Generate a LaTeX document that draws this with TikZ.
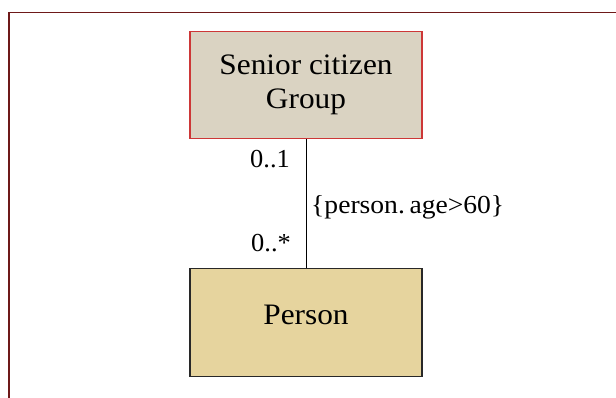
\documentclass[tikz,border=0pt]{standalone}
\usepackage{fontspec}
\setmainfont{Liberation Serif}
\definecolor{framecol}{RGB}{110,25,25}
\definecolor{topfill}{RGB}{218,211,194}
\definecolor{topedge}{RGB}{205,55,55}
\definecolor{botfill}{RGB}{230,212,158}
\definecolor{botedge}{RGB}{40,40,40}
\begin{document}
\begin{tikzpicture}[x=1pt,y=-1pt,
  classbox/.style={draw, line width=1.2pt, minimum width=232pt, minimum height=107pt, inner sep=0pt, align=center, font=\fontsize{27}{37}\selectfont},
  mult/.style={font=\fontsize{24}{26}\selectfont, inner sep=0pt, anchor=east},
  assoc/.style={draw=black, line width=0.9pt}]
\useasboundingbox (0,0) rectangle (616,398);
\fill[white] (0,0) rectangle (616,398);
\draw[framecol, line width=1.6pt] (9,430) -- (9,12.5) -- (640,12.5);
\node[classbox, draw=topedge, fill=topfill] (grp) at (306,85) {\scalebox{1.16}[1.1]{Senior citizen}\\[-3pt]\scalebox{1.16}[1.1]{Group}};
\node[classbox, draw=botedge, fill=botfill, minimum height=108pt] (per) at (306,322.5) {\raisebox{16pt}{\scalebox{1.16}[1.1]{Person}}};
\draw[assoc] (grp.south) -- (per.north);
\node[mult] (m1) at (290,159) {\scalebox{1.1}[1.08]{0..1}};
\node[mult] (m2) at (291,243) {\scalebox{1.1}[1.08]{0..*}};
\node[font=\fontsize{24}{26}\selectfont, inner sep=0pt, anchor=west] (cons) at (311,207) {\scalebox{1.15}[1.08]{\{person.\,age>60\}}};
\end{tikzpicture}
\end{document}
